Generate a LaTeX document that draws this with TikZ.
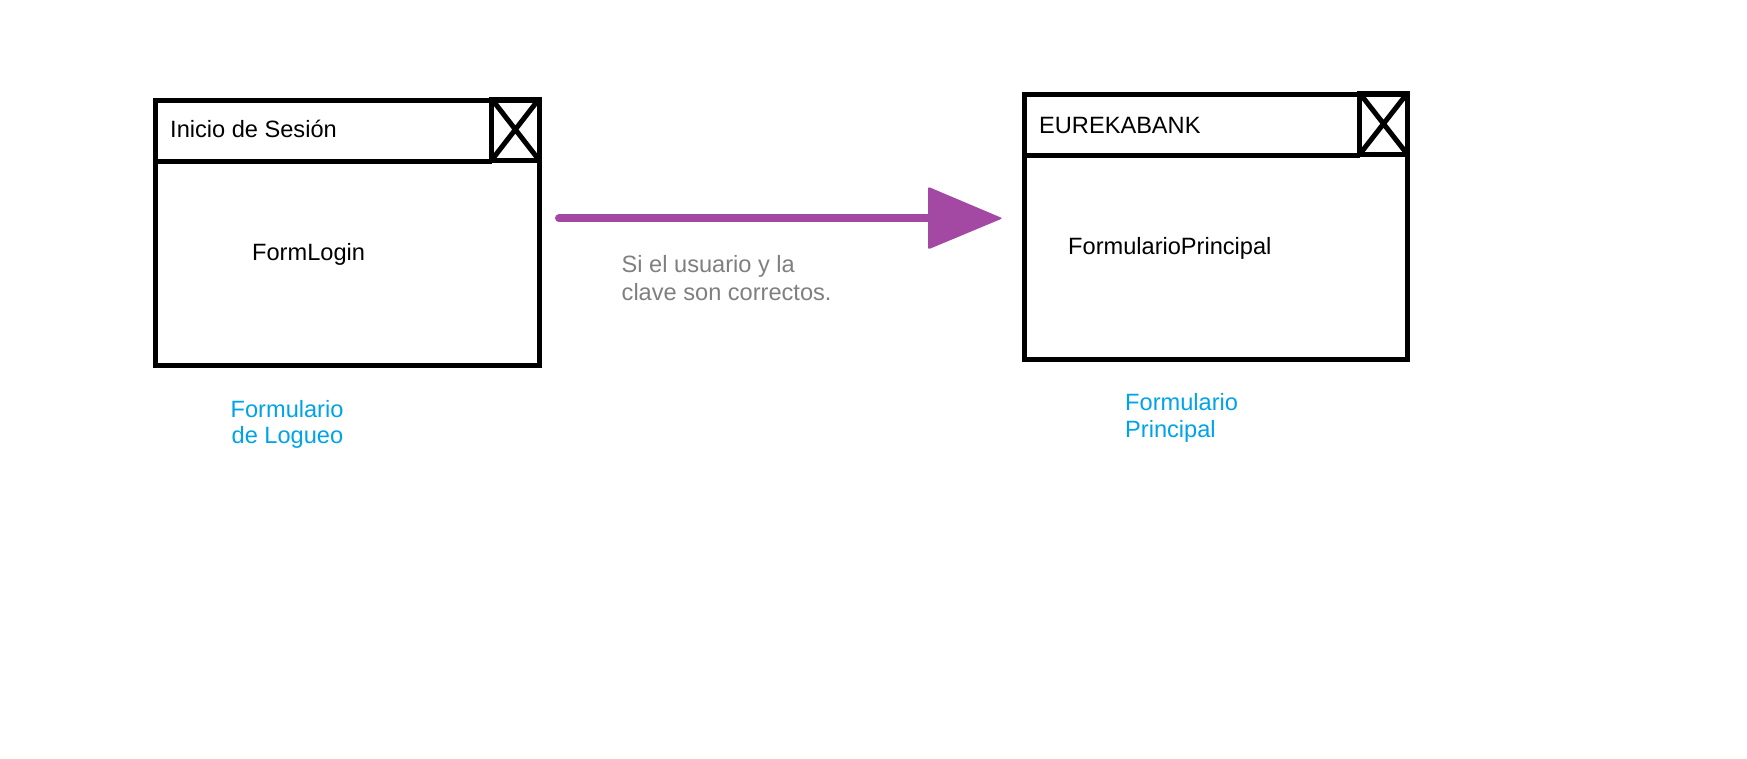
\documentclass[tikz,border=0pt]{standalone}
\usepackage{fontspec}
\setmainfont{Liberation Sans}
\definecolor{paintpurple}{HTML}{A349A4}
\definecolor{paintblue}{HTML}{00A2E8}
\definecolor{paintgray}{HTML}{7F7F7F}
\begin{document}
\begin{tikzpicture}[x=1pt,y=-1pt,
  frame/.style={draw=black,line width=5pt,line join=miter},
  txt/.style={anchor=base west,inner sep=0pt,font=\fontsize{23.6}{27}\selectfont},
  note/.style={txt,text=paintgray},
  caption/.style={txt,text=paintblue},
  flow/.style={draw=paintpurple,line width=8pt,line cap=round}]
\useasboundingbox (0,0) rectangle (1747,758);
% --- left window
\draw[frame] (155.8,100.8) rectangle (539,365);
\draw[frame] (155.8,161) -- (491.7,161);
\draw[frame] (491.7,99) rectangle (539,160);
\draw[frame] (491.7,99) -- (539,160) (491.7,160) -- (539,99);
\node[txt] (t1) at (170,137) {Inicio de Sesión};
\node[txt] (f1) at (252,260) {FormLogin};
\node[caption] (c1a) at (230.5,417.3) {Formulario};
\node[caption] (c1b) at (231.5,443.3) {de Logueo};
% --- right window
\draw[frame] (1024,94.7) rectangle (1407.5,359.5);
\draw[frame] (1024,155.5) -- (1359.5,155.5);
\draw[frame] (1359.5,93) rectangle (1407.5,154.5);
\draw[frame] (1359.5,93) -- (1407.5,154.5) (1359.5,154.5) -- (1407.5,93);
\node[txt] (t2) at (1039,133.3) {EUREKABANK};
\node[txt] (f2) at (1068,254) {FormularioPrincipal};
\node[caption] (c2a) at (1125,410.7) {Formulario};
\node[caption] (c2b) at (1125,437.3) {Principal};
% --- arrow
\coordinate (as) at (559,218.3);
\coordinate (ab) at (930,218.3);
\draw[flow] (as) -- (ab);
\fill[paintpurple,rounded corners=2pt] (928,186.7) -- (1002.7,218.3) -- (928,249.5) -- cycle;
\node[note] (n1) at (621.5,272.5) {Si el usuario y la};
\node[note] (n2) at (621.5,300) {clave son correctos.};
\end{tikzpicture}
\end{document}
